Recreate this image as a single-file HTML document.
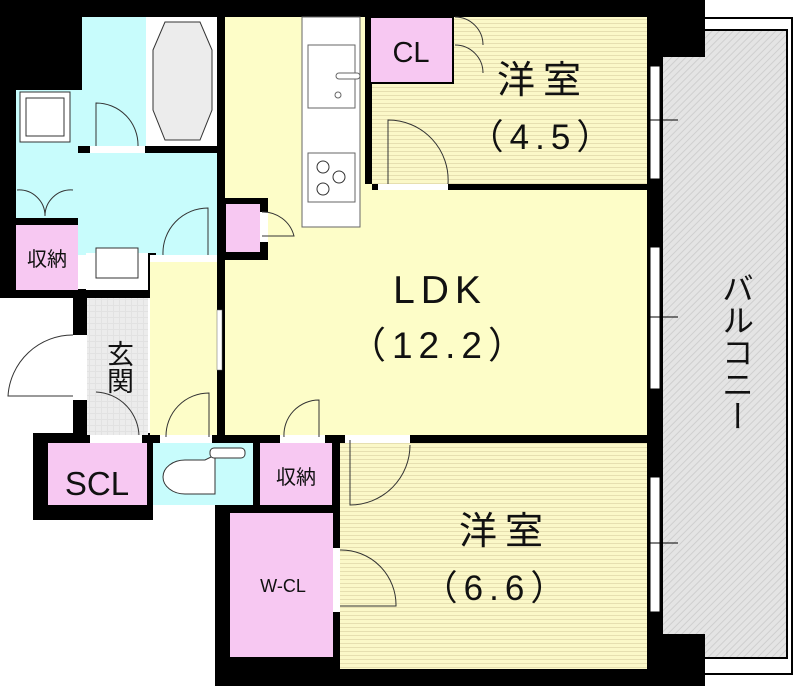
<!DOCTYPE html>
<html><head><meta charset="utf-8"><style>
html,body{margin:0;padding:0;background:#fff;width:800px;height:686px;overflow:hidden}
svg{display:block}
text{font-family:"Liberation Sans","Noto Sans CJK JP",sans-serif;fill:#111}
</style></head><body>
<svg width="800" height="686" viewBox="0 0 800 686" xmlns="http://www.w3.org/2000/svg">
<defs>
<pattern id="st" width="4" height="4" patternUnits="userSpaceOnUse"><rect width="4" height="4" fill="#fbf8c8"/><rect y="3" width="4" height="1" fill="#e6dfb0"/></pattern>
<pattern id="ht" width="5" height="5" patternUnits="userSpaceOnUse" patternTransform="rotate(45)"><rect width="5" height="5" fill="#e4e4e4"/><rect width="1" height="5" fill="#cfcfcf"/></pattern>
<pattern id="gr" width="6" height="6" patternUnits="userSpaceOnUse"><rect width="6" height="6" fill="#e2e2e2"/><rect width="5" height="5" fill="#ececec"/></pattern>
</defs>
<rect x="700" y="18" width="92" height="656" fill="#fff" stroke="#000" stroke-width="2"/>
<rect x="660" y="30" width="127" height="628" fill="url(#ht)" stroke="#000" stroke-width="2"/>
<rect x="0" y="0" width="660" height="17" fill="#000"/>
<rect x="0" y="0" width="82" height="90" fill="#000"/>
<rect x="0" y="0" width="16" height="297" fill="#000"/>
<rect x="0" y="289" width="152" height="9" fill="#000"/>
<rect x="647" y="0" width="58" height="57" fill="#000"/>
<rect x="647" y="0" width="16" height="686" fill="#000"/>
<rect x="647" y="634" width="58" height="52" fill="#000"/>
<rect x="215" y="669" width="440" height="17" fill="#000"/>
<rect x="215" y="505" width="125" height="167" fill="#000"/>
<rect x="33" y="433" width="120" height="87" fill="#000"/>
<rect x="73" y="298" width="14" height="140" fill="#000"/>
<rect x="650" y="66" width="10" height="113" fill="#fff" stroke="#000" stroke-width="1"/>
<rect x="650" y="247" width="10" height="142" fill="#fff" stroke="#000" stroke-width="1"/>
<rect x="650" y="477" width="10" height="135" fill="#fff" stroke="#000" stroke-width="1"/>
<line x1="633" y1="120" x2="678" y2="120" stroke="#000"/><line x1="633" y1="317" x2="678" y2="317" stroke="#000"/><line x1="633" y1="543" x2="678" y2="543" stroke="#000"/>
<rect x="225" y="17" width="422" height="418" fill="#fdfdc8"/>
<rect x="365" y="17" width="282" height="167" fill="url(#st)"/>
<rect x="365" y="17" width="7" height="167" fill="#000"/>
<rect x="370" y="17" width="83" height="66" fill="#f7c8f2" stroke="#000" stroke-width="2"/>
<rect x="372" y="184" width="275" height="6" fill="#000"/>
<rect x="378" y="184" width="70" height="6" fill="#fff"/>
<path d="M388 184 V120 A60 60 0 0 1 448 184" fill="none" stroke="#333"/>
<path d="M455 17 A28 28 0 0 1 483 45 M455 45 A28 28 0 0 1 483 73" fill="none" stroke="#333"/>
<rect x="302" y="17" width="58" height="210" fill="#fff" stroke="#666"/>
<rect x="308" y="45" width="47" height="63" fill="#fff" stroke="#666"/>
<rect x="336" y="73" width="24" height="6" rx="3" fill="#fff" stroke="#666"/>
<circle cx="338" cy="95" r="3" fill="none" stroke="#666"/>
<rect x="308" y="153" width="47" height="49" fill="#fff" stroke="#666"/>
<circle cx="323" cy="167" r="6" fill="none" stroke="#333"/><circle cx="339" cy="177" r="6" fill="none" stroke="#333"/><circle cx="323" cy="189" r="6" fill="none" stroke="#333"/>
<rect x="222" y="198" width="46" height="62" fill="#000"/>
<rect x="226" y="204" width="34" height="48" fill="#f7c8f2"/>
<rect x="260" y="212" width="8" height="30" fill="#fff"/>
<path d="M262 212 A32 32 0 0 1 294 236 L262 236" fill="none" stroke="#333"/>
<rect x="16" y="90" width="201" height="165" fill="#c8fcfc"/>
<rect x="82" y="17" width="135" height="137" fill="#c8fcfc"/>
<rect x="217" y="17" width="8" height="425" fill="#000"/>
<rect x="146" y="17" width="71" height="130" fill="#fff"/>
<path d="M165 22 L200 22 L212 50 L212 110 L200 140 L165 140 L153 110 L153 50 Z" fill="#ececec" stroke="#333"/>
<rect x="78" y="146" width="139" height="7" fill="#000"/><rect x="90" y="146" width="55" height="7" fill="#fff"/>
<path d="M96 146 V103 A42 42 0 0 1 138 146" fill="none" stroke="#333"/>
<rect x="20" y="92" width="50" height="50" fill="#fff" stroke="#333"/><rect x="26" y="98" width="38" height="38" fill="none" stroke="#333"/>
<rect x="16" y="218" width="62" height="8" fill="#000"/>
<rect x="16" y="225" width="62" height="65" fill="#f7c8f2"/>
<text x="47" y="266" font-size="20" text-anchor="middle">収納</text>
<path d="M17 190 A26 26 0 0 1 45 216 M73 190 A26 26 0 0 0 45 216" fill="none" stroke="#333"/>
<rect x="86" y="253" width="62" height="37" fill="#fff"/><rect x="148" y="253" width="8" height="45" fill="#000"/>
<rect x="96" y="248" width="42" height="30" fill="#fff" stroke="#333"/>
<rect x="150" y="255" width="67" height="8" fill="#fff"/>
<path d="M163 255 A45 45 0 0 1 208 208 V255" fill="none" stroke="#333"/>
<rect x="150" y="262" width="67" height="173" fill="#fdfdc8"/>
<rect x="87" y="298" width="61" height="137" fill="url(#gr)"/>
<rect x="73" y="335" width="14" height="65" fill="#fff"/>
<path d="M73 335 A65 65 0 0 0 8 396 L73 396" fill="none" stroke="#333"/>
<path d="M96 392 A45 45 0 0 1 139 437" fill="none" stroke="#333"/>
<rect x="217" y="310" width="5" height="60" fill="#fff" stroke="#666" stroke-width="0.5"/>
<text x="118" y="367" font-size="27" text-anchor="middle" writing-mode="tb">玄関</text>
<rect x="147" y="435" width="500" height="8" fill="#000"/>
<rect x="90" y="435" width="52" height="8" fill="#fff"/>
<rect x="160" y="435" width="52" height="8" fill="#fff"/>
<rect x="280" y="435" width="45" height="8" fill="#fff"/>
<rect x="345" y="435" width="65" height="8" fill="#fff"/>
<path d="M166 437 A43 43 0 0 1 209 393 V437 M284 437 A35 35 0 0 1 319 400 V437" fill="none" stroke="#333"/>
<rect x="48" y="443" width="99" height="62" fill="#f7c8f2"/>
<rect x="153" y="443" width="100" height="62" fill="#c8fcfc"/>
<rect x="253" y="443" width="7" height="70" fill="#000"/>
<rect x="260" y="443" width="72" height="62" fill="#f7c8f2"/>
<rect x="332" y="435" width="8" height="78" fill="#000"/>
<path d="M205 460 H185 A22 17 0 0 0 185 494 H215 V455 Z" fill="#fff" stroke="#333"/>
<rect x="210" y="448" width="35" height="10" rx="4" fill="#fff" stroke="#333"/>
<text x="97" y="495" font-size="33" text-anchor="middle">SCL</text>
<text x="296" y="484" font-size="20" text-anchor="middle">収納</text>
<rect x="340" y="443" width="307" height="226" fill="url(#st)"/>
<rect x="230" y="513" width="103" height="144" fill="#f7c8f2"/>
<rect x="333" y="548" width="7" height="64" fill="#fff"/>
<path d="M340 550 A55 55 0 0 1 396 606 L340 606" fill="none" stroke="#333"/>
<path d="M350 440 V505 A60 60 0 0 0 410 445" fill="none" stroke="#333"/>
<text x="283" y="592" font-size="18" text-anchor="middle">W-CL</text>
<text x="411" y="62" font-size="29" text-anchor="middle">CL</text>
<text x="543" y="93" font-size="38" text-anchor="middle" letter-spacing="8">洋室</text>
<text x="543" y="149" font-size="35" text-anchor="middle" letter-spacing="6">（4.5）</text>
<text x="440" y="303" font-size="39" text-anchor="middle" letter-spacing="6">LDK</text>
<text x="440" y="358" font-size="37" text-anchor="middle" letter-spacing="6">（12.2）</text>
<text x="505" y="544" font-size="38" text-anchor="middle" letter-spacing="8">洋室</text>
<text x="497" y="600" font-size="35" text-anchor="middle" letter-spacing="6">（6.6）</text>
<text x="736" y="352" font-size="32" text-anchor="middle" writing-mode="tb">バルコニー</text>
</svg>
</body></html>
